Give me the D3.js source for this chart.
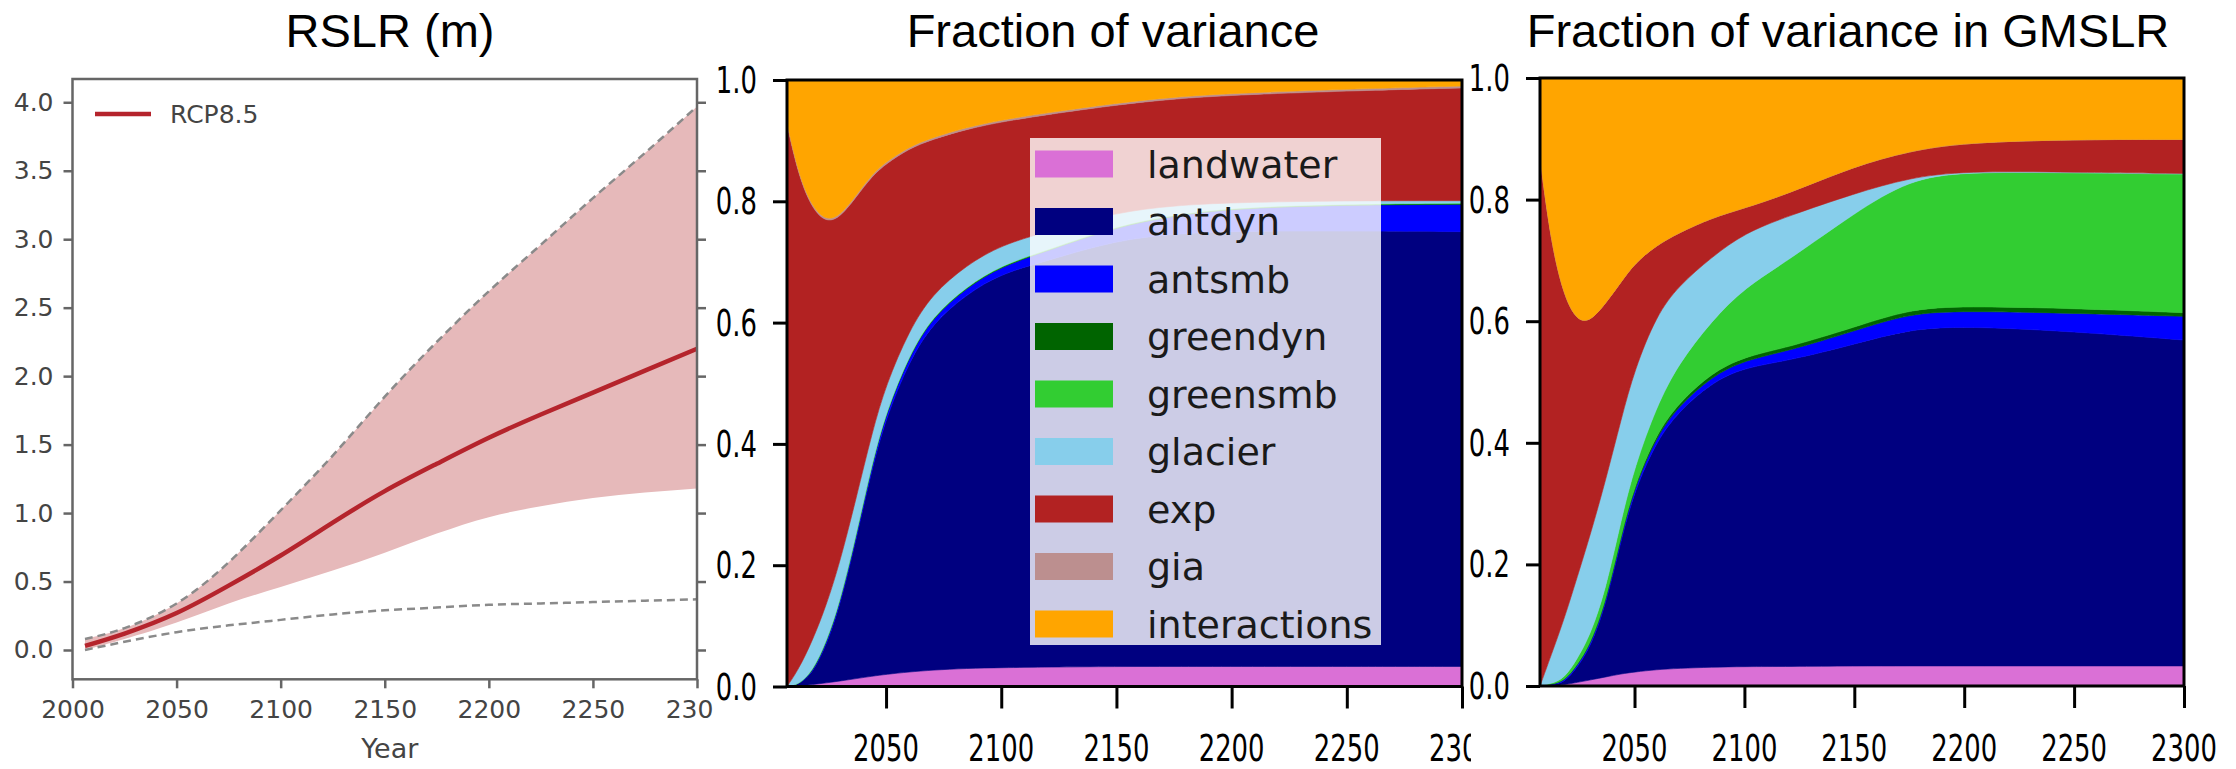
<!DOCTYPE html>
<html>
<head>
<meta charset="utf-8">
<script src="https://cdn.jsdelivr.net/npm/d3@7"></script>
<style>
body { margin: 0; background: #fff; }
svg { display: block; }
</style>
</head>
<body>
<script>
// RSLR (m), RCP8.5
var years1 = [2006, 2025, 2050, 2075, 2100, 2125, 2150, 2175, 2200, 2225, 2250, 2275, 2300];
var rslrMedian = [0.03, 0.12, 0.27, 0.47, 0.69, 0.93, 1.16, 1.36, 1.55, 1.72, 1.88, 2.04, 2.20];
var rslrHigh = [0.08, 0.16, 0.34, 0.64, 1.02, 1.42, 1.85, 2.25, 2.62, 2.96, 3.30, 3.63, 3.97];
var rslrLow = [0.00, 0.08, 0.20, 0.34, 0.46, 0.58, 0.71, 0.85, 0.97, 1.05, 1.11, 1.15, 1.18];
var rslrLowDash = [0.00, 0.06, 0.13, 0.18, 0.22, 0.26, 0.29, 0.31, 0.33, 0.34, 0.35, 0.36, 0.37];
var yTicks1 = [0, 0.5, 1, 1.5, 2, 2.5, 3, 3.5, 4];
var xTicks1 = [2000, 2050, 2100, 2150, 2200, 2250, 2300];

// fraction of variance, stacked bottom -> top
var components = ["landwater", "antdyn", "antsmb", "greendyn", "greensmb", "glacier", "exp", "gia", "interactions"];
var compColors = ["#da70d6", "#000080", "#0000ff", "#006400", "#32cd32", "#87ceeb", "#b22222", "#bc8f8f", "#ffa500"];
var yearsF = [2007, 2012, 2018, 2024, 2030, 2037, 2044, 2050, 2060, 2070, 2085, 2100, 2120, 2150, 2175, 2200, 2250, 2300];

// panel 2: RSLR
var landwater2 = [0, 0.001, 0.003, 0.006, 0.009, 0.013, 0.017, 0.020, 0.024, 0.027, 0.030, 0.031, 0.032, 0.033, 0.033, 0.033, 0.033, 0.033];
var antdyn2 = [0, 0.002, 0.018, 0.061, 0.124, 0.229, 0.344, 0.423, 0.512, 0.571, 0.617, 0.650, 0.670, 0.703, 0.713, 0.718, 0.718, 0.717];
var antsmb2 = [0, 0, 0.002, 0.004, 0.005, 0.006, 0.007, 0.008, 0.009, 0.010, 0.011, 0.012, 0.016, 0.022, 0.030, 0.037, 0.043, 0.045];
var greendyn2 = [0, 0, 0.001, 0.001, 0.001, 0.001, 0.001, 0.001, 0.001, 0.001, 0.001, 0.001, 0.001, 0.001, 0.001, 0.001, 0.001, 0.001];
var greensmb2 = [0, 0, 0.001, 0.001, 0.001, 0.001, 0.001, 0.001, 0.001, 0.001, 0.001, 0.001, 0.001, 0.001, 0.001, 0.001, 0.001, 0.001];
var glacier2 = [0, 0.025, 0.050, 0.060, 0.065, 0.060, 0.050, 0.045, 0.040, 0.037, 0.035, 0.033, 0.030, 0.022, 0.015, 0.008, 0.005, 0.004];
var exp2 = [0.927, 0.814, 0.712, 0.632, 0.568, 0.497, 0.422, 0.364, 0.300, 0.255, 0.224, 0.203, 0.193, 0.177, 0.176, 0.177, 0.181, 0.186];
var gia2 = [0.003, 0.003, 0.003, 0.003, 0.003, 0.003, 0.003, 0.003, 0.003, 0.003, 0.003, 0.003, 0.003, 0.003, 0.003, 0.003, 0.003, 0.003];
var interactions2 = [0.070, 0.155, 0.210, 0.232, 0.224, 0.190, 0.155, 0.135, 0.110, 0.095, 0.078, 0.066, 0.054, 0.038, 0.028, 0.022, 0.015, 0.010];

// panel 3: GMSLR
var landwater3 = [0, 0, 0.002, 0.006, 0.010, 0.015, 0.020, 0.023, 0.027, 0.029, 0.031, 0.032, 0.032, 0.033, 0.033, 0.033, 0.033, 0.033];
var antdyn3 = [0, 0.002, 0.003, 0.025, 0.054, 0.119, 0.222, 0.298, 0.376, 0.422, 0.468, 0.492, 0.503, 0.529, 0.554, 0.559, 0.550, 0.536];
var antsmb3 = [0, 0.001, 0.002, 0.003, 0.004, 0.004, 0.005, 0.006, 0.008, 0.009, 0.010, 0.012, 0.016, 0.022, 0.026, 0.025, 0.030, 0.039];
var greendyn3 = [0, 0, 0.001, 0.001, 0.002, 0.002, 0.003, 0.003, 0.004, 0.005, 0.006, 0.006, 0.006, 0.006, 0.007, 0.008, 0.008, 0.006];
var greensmb3 = [0, 0.001, 0.004, 0.010, 0.015, 0.020, 0.025, 0.030, 0.045, 0.065, 0.085, 0.113, 0.143, 0.188, 0.213, 0.221, 0.223, 0.228];
var glacier3 = [0, 0.046, 0.098, 0.135, 0.165, 0.180, 0.165, 0.160, 0.150, 0.128, 0.105, 0.090, 0.073, 0.032, 0.003, 0.001, 0.001, 0.001];
var exp3 = [0.870, 0.680, 0.530, 0.420, 0.350, 0.290, 0.225, 0.175, 0.115, 0.087, 0.065, 0.041, 0.037, 0.045, 0.044, 0.047, 0.054, 0.056];
var gia3 = [0, 0, 0, 0, 0, 0, 0, 0, 0, 0, 0, 0, 0, 0, 0, 0, 0, 0];
var interactions3 = [0.130, 0.270, 0.360, 0.400, 0.400, 0.370, 0.335, 0.305, 0.275, 0.255, 0.230, 0.214, 0.190, 0.145, 0.120, 0.106, 0.101, 0.101];

var yTicksF = [0, 0.2, 0.4, 0.6, 0.8, 1.0];
var xTicksF = [2050, 2100, 2150, 2200, 2250, 2300];

var W = 2236, H = 769;
var svg = d3.select("body").append("svg")
    .attr("width", W)
    .attr("height", H);

// ---------- panel 1 ----------
var p1 = {left: 72.5, right: 697, top: 79, bottom: 679.3};
var x1 = d3.scaleLinear().domain([2000, 2300]).range([p1.left, p1.right]);
var y1 = d3.scaleLinear().domain([-0.214, 4.17]).range([p1.bottom, p1.top]);

var g1 = svg.append("g");

var band = d3.area()
    .x(function (d, i) { return x1(years1[i]); })
    .y0(function (d, i) { return y1(rslrLow[i]); })
    .y1(function (d, i) { return y1(rslrHigh[i]); })
    .curve(d3.curveNatural);

var line1 = d3.line()
    .x(function (d, i) { return x1(years1[i]); })
    .y(function (d) { return y1(d); })
    .curve(d3.curveNatural);

g1.append("path")
    .attr("d", band(years1))
    .attr("fill", "#e6b9ba");

g1.append("path")
    .attr("d", line1(rslrHigh))
    .attr("fill", "none")
    .attr("stroke", "#8a8a8a")
    .attr("stroke-width", 2.5)
    .attr("stroke-dasharray", "8,5");

g1.append("path")
    .attr("d", line1(rslrLowDash))
    .attr("fill", "none")
    .attr("stroke", "#8a8a8a")
    .attr("stroke-width", 2.5)
    .attr("stroke-dasharray", "8,5");

g1.append("path")
    .attr("d", line1(rslrMedian))
    .attr("fill", "none")
    .attr("stroke", "#b5242c")
    .attr("stroke-width", 4.5);

// axes
var ax1L = g1.append("g")
    .attr("transform", "translate(" + p1.left + ",0)")
    .call(d3.axisLeft(y1).tickValues(yTicks1).tickSize(9).tickPadding(10).tickFormat(d3.format(".1f")));
var ax1R = g1.append("g")
    .attr("transform", "translate(" + p1.right + ",0)")
    .call(d3.axisRight(y1).tickValues(yTicks1).tickSize(9).tickFormat(""));
var ax1B = g1.append("g")
    .attr("transform", "translate(0," + p1.bottom + ")")
    .call(d3.axisBottom(x1).tickValues(xTicks1).tickSize(9).tickPadding(12).tickFormat(d3.format("d")));

[ax1L, ax1R, ax1B].forEach(function (a) {
    a.select(".domain").remove();
    a.selectAll("line").attr("stroke", "#666").attr("stroke-width", 2.5);
    a.selectAll("text")
        .attr("fill", "#444")
        .style("font-family", "DejaVu Sans")
        .style("font-size", "25px");
});

g1.append("rect")
    .attr("x", p1.left)
    .attr("y", p1.top)
    .attr("width", p1.right - p1.left)
    .attr("height", p1.bottom - p1.top)
    .attr("fill", "none")
    .attr("stroke", "#666")
    .attr("stroke-width", 2.5);

g1.append("text")
    .attr("x", (p1.left + p1.right) / 2 + 5)
    .attr("y", 758)
    .attr("text-anchor", "middle")
    .attr("fill", "#444")
    .style("font-family", "DejaVu Sans")
    .style("font-size", "27px")
    .text("Year");

// legend
g1.append("line")
    .attr("x1", 95).attr("x2", 151)
    .attr("y1", 114).attr("y2", 114)
    .attr("stroke", "#b5242c")
    .attr("stroke-width", 4.5);
g1.append("text")
    .attr("x", 170)
    .attr("y", 123)
    .attr("fill", "#444")
    .style("font-family", "DejaVu Sans")
    .style("font-size", "25px")
    .text("RCP8.5");

g1.append("text")
    .attr("x", 390)
    .attr("y", 47)
    .attr("text-anchor", "middle")
    .style("font-family", "Liberation Sans, Arial, sans-serif")
    .style("font-size", "47px")
    .text("RSLR (m)");

// ---------- stacked fraction panels ----------
function fractionPanel(box, series, title, titleX, bgLeft) {
    var g = svg.append("g");

    // the panel image sits on a white sheet that hides what is left of it
    g.append("rect")
        .attr("x", bgLeft).attr("y", 60)
        .attr("width", W - bgLeft).attr("height", H - 60)
        .attr("fill", "#fff");

    var x = d3.scaleLinear().domain([2007, 2300]).range([box.left, box.right]);
    var y = d3.scaleLinear().domain([0, 1]).range([box.bottom, box.top]);

    var rows = yearsF.map(function (yr, i) {
        var r = {year: yr};
        components.forEach(function (c, k) { r[c] = series[k][i]; });
        return r;
    });

    var stacked = d3.stack().keys(components)(rows);

    var area = d3.area()
        .x(function (d) { return x(d.data.year); })
        .y0(function (d) { return y(d[0]); })
        .y1(function (d) { return y(d[1]); })
        .curve(d3.curveBasis);

    g.selectAll(".layer")
        .data(stacked)
        .enter().append("path")
        .attr("class", "layer")
        .attr("d", area)
        .attr("fill", function (d, i) { return compColors[i]; })
        .attr("stroke", function (d, i) { return compColors[i]; })
        .attr("stroke-width", 0.6);

    // ticks
    var axL = g.append("g")
        .attr("transform", "translate(" + box.left + ",0)")
        .call(d3.axisLeft(y).tickValues(yTicksF).tickSize(14).tickFormat(""));
    var axB = g.append("g")
        .attr("transform", "translate(0," + box.bottom + ")")
        .call(d3.axisBottom(x).tickValues(xTicksF).tickSize(22).tickFormat(""));
    [axL, axB].forEach(function (a) {
        a.select(".domain").remove();
        a.selectAll("line").attr("stroke", "#000").attr("stroke-width", 3);
    });

    // tick labels, narrow like the source image
    g.selectAll(".ylab")
        .data(yTicksF)
        .enter().append("text")
        .attr("class", "ylab")
        .attr("transform", function (d) {
            return "translate(" + (box.left - 30) + "," + (y(d) + 13) + ") scale(0.7,1)";
        })
        .attr("text-anchor", "end")
        .style("font-family", "DejaVu Sans")
        .style("font-size", "37px")
        .text(d3.format(".1f"));

    g.selectAll(".xlab")
        .data(xTicksF)
        .enter().append("text")
        .attr("class", "xlab")
        .attr("transform", function (d) {
            return "translate(" + x(d) + ",761) scale(0.7,1)";
        })
        .attr("text-anchor", "middle")
        .style("font-family", "DejaVu Sans")
        .style("font-size", "37px")
        .text(d3.format("d"));

    g.append("rect")
        .attr("x", box.left)
        .attr("y", box.top)
        .attr("width", box.right - box.left)
        .attr("height", box.bottom - box.top)
        .attr("fill", "none")
        .attr("stroke", "#000")
        .attr("stroke-width", 3);

    g.append("text")
        .attr("x", titleX)
        .attr("y", 47)
        .attr("text-anchor", "middle")
        .style("font-family", "Liberation Sans, Arial, sans-serif")
        .style("font-size", "47px")
        .text(title);

    return g;
}

var g2 = fractionPanel({left: 787, right: 1462, top: 80, bottom: 686.5},
    [landwater2, antdyn2, antsmb2, greendyn2, greensmb2, glacier2, exp2, gia2, interactions2],
    "Fraction of variance", 1113, 713);

// legend of panel 2
var leg = g2.append("g");
leg.append("rect")
    .attr("x", 1030).attr("y", 138)
    .attr("width", 351).attr("height", 507)
    .attr("fill", "#fff")
    .attr("fill-opacity", 0.8);

var legItem = leg.selectAll(".item")
    .data(components)
    .enter().append("g")
    .attr("class", "item")
    .attr("transform", function (d, i) { return "translate(0," + (164 + i * 57.5) + ")"; });

legItem.append("rect")
    .attr("x", 1035).attr("y", -13.5)
    .attr("width", 78).attr("height", 27)
    .attr("fill", function (d, i) { return compColors[i]; });

legItem.append("text")
    .attr("x", 1147)
    .attr("y", 13.5)
    .attr("fill", "#1a1a1a")
    .style("font-family", "DejaVu Sans")
    .style("font-size", "38px")
    .text(function (d) { return d; });

fractionPanel({left: 1540, right: 2184, top: 78, bottom: 686},
    [landwater3, antdyn3, antsmb3, greendyn3, greensmb3, glacier3, exp3, gia3, interactions3],
    "Fraction of variance in GMSLR", 1848, 1471);
</script>
</body>
</html>
